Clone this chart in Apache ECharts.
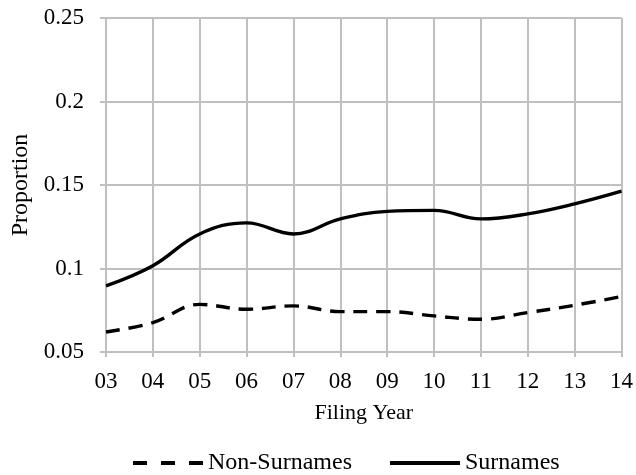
<!DOCTYPE html>
<html>
<head>
<meta charset="utf-8">
<script src="https://cdn.jsdelivr.net/npm/echarts@6/dist/echarts.min.js"></script>
<style>
html,body{margin:0;padding:0;background:#fff;}
#chart{width:636px;height:475px;}
</style>
</head>
<body>
<div id="chart"></div>
<script>
var years = ['03','04','05','06','07','08','09','10','11','12','13','14'];
var surnames = [0.0896, 0.1017, 0.1207, 0.1273, 0.1207, 0.1297, 0.1342, 0.1348, 0.1297, 0.1327, 0.1387, 0.1463];
var nonSurnames = [0.0620, 0.0676, 0.0785, 0.0756, 0.0776, 0.0742, 0.0742, 0.0716, 0.0696, 0.0736, 0.0780, 0.0832];
var yMin = 0.05, yMax = 0.25, yStep = 0.05;

var FONT = '"Liberation Serif", "Times New Roman", serif';
var GRID = '#c0c0c0';
var chart = echarts.init(document.getElementById('chart'), null, {renderer: 'canvas'});
chart.setOption({
  animation: false,
  backgroundColor: '#fff',
  textStyle: {fontFamily: FONT, color: '#000'},
  grid: {left: 106, right: 12, top: 18, bottom: 123, containLabel: false},
  xAxis: {
    type: 'category',
    data: years,
    boundaryGap: false,
    name: 'Filing Year',
    nameLocation: 'middle',
    nameGap: 50,
    nameTextStyle: {fontFamily: FONT, fontSize: 22, color: '#000'},
    axisLine: {show: true, lineStyle: {color: GRID, width: 2}},
    axisTick: {show: true, length: 5, lineStyle: {color: GRID, width: 2}},
    axisLabel: {fontFamily: FONT, fontSize: 23, color: '#000', margin: 18},
    splitLine: {show: true, lineStyle: {color: GRID, width: 2}}
  },
  yAxis: {
    type: 'value',
    min: yMin, max: yMax, interval: yStep,
    name: 'Proportion',
    nameLocation: 'middle',
    nameGap: 66,
    nameRotate: 90,
    nameTextStyle: {fontFamily: FONT, fontSize: 24, color: '#000'},
    axisLine: {show: true, lineStyle: {color: GRID, width: 2}},
    axisTick: {show: true, length: 6, lineStyle: {color: GRID, width: 2}},
    axisLabel: {fontFamily: FONT, fontSize: 23, color: '#000', margin: 22},
    splitLine: {show: true, lineStyle: {color: GRID, width: 2}}
  },
  legend: {
    top: 446,
    left: 128,
    itemWidth: 70,
    itemHeight: 4,
    itemGap: 38,
    textStyle: {fontFamily: FONT, fontSize: 24, color: '#000'},
    data: [
      {name: 'Non-Surnames', icon: 'path://M0,0H14V4H0Z M28,0H42V4H28Z M56,0H70V4H56Z'},
      {name: 'Surnames', icon: 'path://M0,0H70V4H0Z'}
    ]
  },
  series: [
    {
      name: 'Non-Surnames', type: 'line', data: nonSurnames,
      smooth: 0.4, showSymbol: false, symbol: 'none',
      lineStyle: {color: '#000', width: 3.4, type: [14, 9]},
      itemStyle: {color: '#000'}
    },
    {
      name: 'Surnames', type: 'line', data: surnames,
      smooth: 0.4, showSymbol: false, symbol: 'none',
      lineStyle: {color: '#000', width: 3.4, type: 'solid'},
      itemStyle: {color: '#000'}
    }
  ]
});
</script>
</body>
</html>
